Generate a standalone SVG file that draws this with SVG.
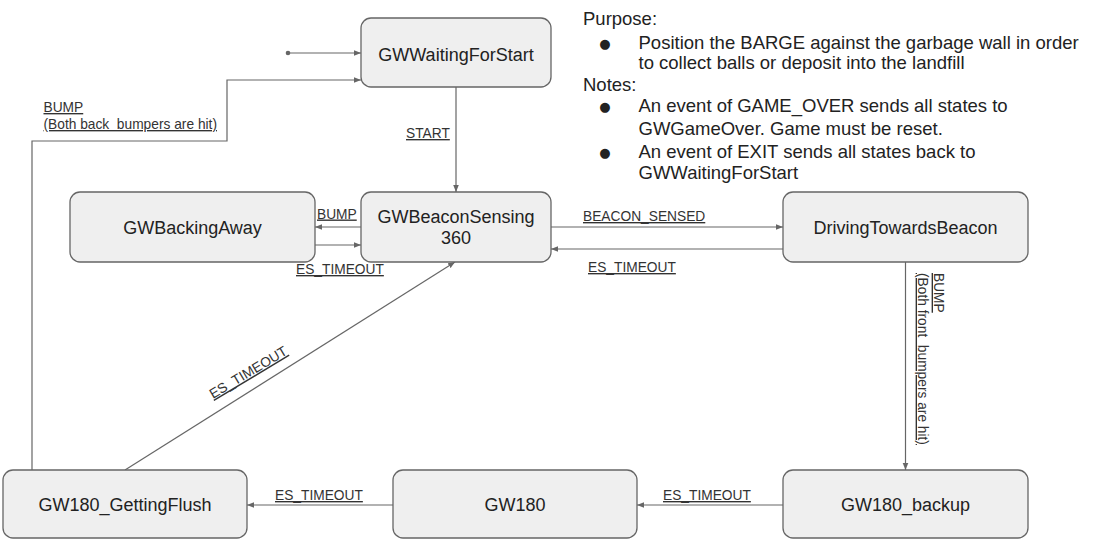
<svg xmlns="http://www.w3.org/2000/svg" width="1100" height="541" viewBox="0 0 1100 541">
<style>
.node rect{fill:#efefef;stroke:#666;stroke-width:1.3}
.node text{font-family:"Liberation Sans",Arial,sans-serif;font-size:18px;fill:#222;text-anchor:middle}
.conn path{fill:none;stroke:#666;stroke-width:1.2}
.lbl{font-family:"Liberation Sans",Arial,sans-serif;font-size:13.75px;fill:#333;text-decoration:underline}
.note{font-family:"Liberation Sans",Arial,sans-serif;font-size:18.5px;fill:#222}
.bul{font-family:"DejaVu Sans",sans-serif;font-size:13px;fill:#222;text-anchor:middle}
</style>
<defs>
<marker id="ah" viewBox="0 0 10 10" refX="10" refY="5" markerWidth="7" markerHeight="7" markerUnits="userSpaceOnUse" orient="auto">
<path d="M0,1 L10,5 L0,9 z" fill="#666"/>
</marker>
</defs>
<rect width="1100" height="541" fill="#fff"/>

<g id="connectors" class="conn">
<circle cx="288" cy="53" r="2.3" fill="#666"/>
<path d="M288,53 H361" marker-end="url(#ah)"/>
<path d="M32,470 V141 H227 V80 H361" marker-end="url(#ah)"/>
<path d="M456,87 V192" marker-end="url(#ah)"/>
<path d="M361,227 H315" marker-end="url(#ah)"/>
<path d="M315,245 H361" marker-end="url(#ah)"/>
<path d="M551,227 H783" marker-end="url(#ah)"/>
<path d="M783,249 H551" marker-end="url(#ah)"/>
<path d="M905.5,262 V470" marker-end="url(#ah)"/>
<path d="M783,505 H637" marker-end="url(#ah)"/>
<path d="M393,505 H247" marker-end="url(#ah)"/>
<path d="M125,470 L455,262" marker-end="url(#ah)"/>
</g>

<g id="labels">
<text class="lbl" x="43.5" y="112">BUMP</text>
<text class="lbl" x="43.5" y="129" xml:space="preserve">(Both back  bumpers are hit)</text>
<text class="lbl" x="406" y="138">START</text>
<text class="lbl" x="317" y="218.5">BUMP</text>
<text class="lbl" x="296" y="274">ES_TIMEOUT</text>
<text class="lbl" x="583" y="221">BEACON_SENSED</text>
<text class="lbl" x="588" y="272">ES_TIMEOUT</text>
<text class="lbl" x="275" y="500">ES_TIMEOUT</text>
<text class="lbl" x="663" y="500">ES_TIMEOUT</text>
<text class="lbl" transform="translate(213,399) rotate(-31)">ES_TIMEOUT</text>
<g transform="translate(934,273) rotate(90)">
<text class="lbl" x="0" y="0">BUMP</text>
<text class="lbl" x="0" y="16" xml:space="preserve">(Both front  bumpers are hit)</text>
</g>
</g>

<g id="n_waiting" class="node"><rect x="361" y="18" width="190" height="69" rx="10"/><text x="456" y="61">GWWaitingForStart</text></g>
<g id="n_backing" class="node"><rect x="70" y="192" width="245" height="70" rx="10"/><text x="192.5" y="233.5">GWBackingAway</text></g>
<g id="n_beacon" class="node"><rect x="361" y="192" width="190" height="70" rx="10"/><text x="456" y="223">GWBeaconSensing</text><text x="456" y="244">360</text></g>
<g id="n_driving" class="node"><rect x="783" y="192" width="245" height="70" rx="10"/><text x="905.5" y="233.5">DrivingTowardsBeacon</text></g>
<g id="n_flush" class="node"><rect x="3" y="470" width="244" height="68" rx="10"/><text x="125" y="511">GW180_GettingFlush</text></g>
<g id="n_gw180" class="node"><rect x="393" y="470" width="244" height="68" rx="10"/><text x="515" y="511">GW180</text></g>
<g id="n_backup" class="node"><rect x="783" y="470" width="245" height="68" rx="10"/><text x="905.5" y="511">GW180_backup</text></g>

<g id="notes">
<text class="note" x="583" y="24.5">Purpose:</text>
<text class="bul" x="605" y="48">●</text>
<text class="note" x="638.5" y="48.5">Position the BARGE against the garbage wall in order</text>
<text class="note" x="638.5" y="68.5">to collect balls or deposit into the landfill</text>
<text class="note" x="583" y="90.5">Notes:</text>
<text class="bul" x="605" y="111">●</text>
<text class="note" x="638.5" y="111.5">An event of GAME_OVER sends all states to</text>
<text class="note" x="638.5" y="134.5">GWGameOver. Game must be reset.</text>
<text class="bul" x="605" y="157">●</text>
<text class="note" x="638.5" y="157.5">An event of EXIT sends all states back to</text>
<text class="note" x="638.5" y="178.5">GWWaitingForStart</text>
</g>
</svg>
